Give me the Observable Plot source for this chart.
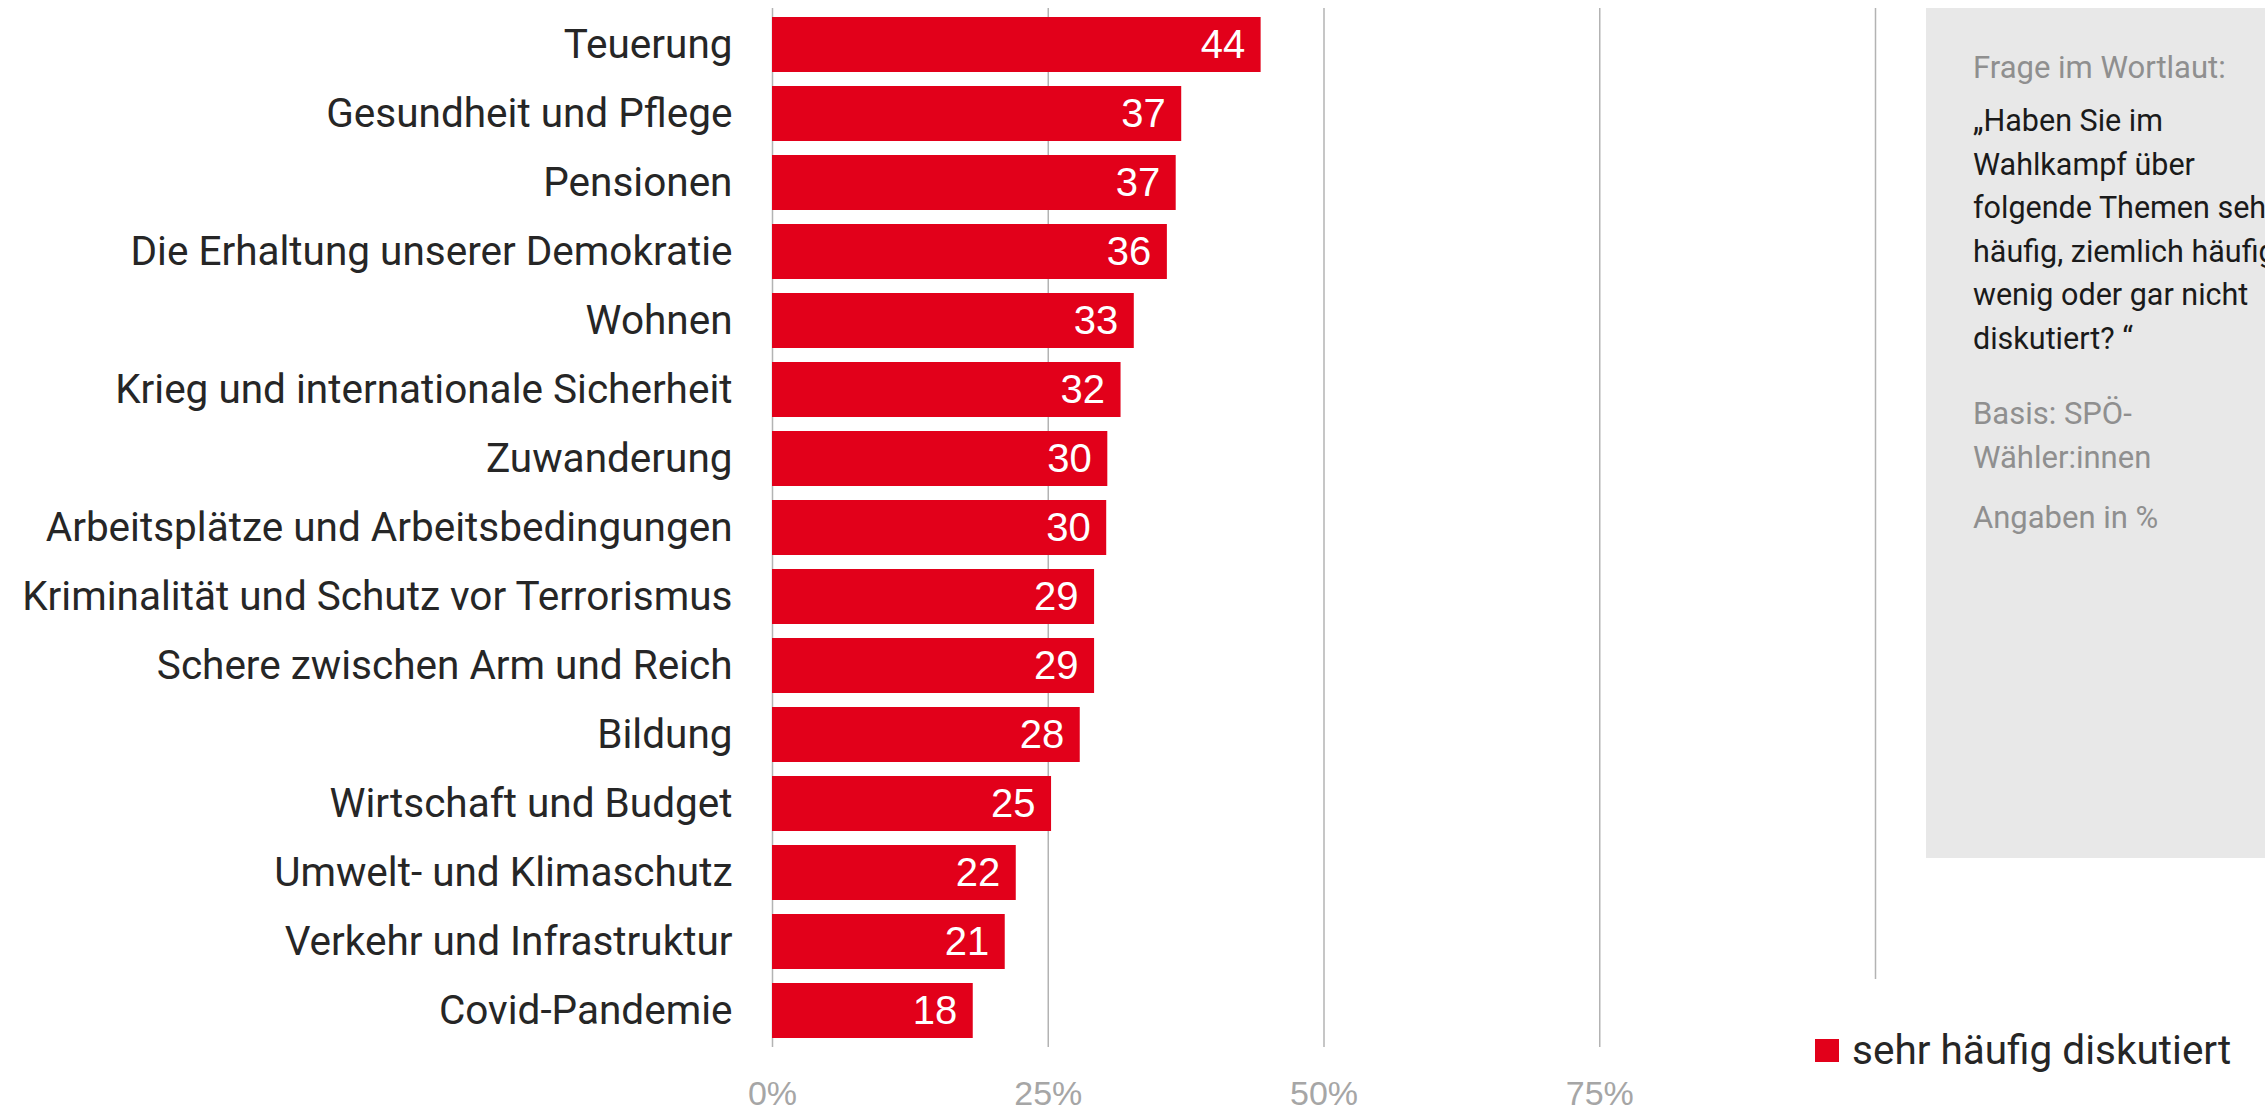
<!DOCTYPE html>
<html>
<head>
<meta charset="utf-8">
<script src="https://cdn.jsdelivr.net/npm/d3@7"></script>
<script src="https://cdn.jsdelivr.net/npm/@observablehq/plot@0.6"></script>
<style>
  html, body { margin: 0; padding: 0; background: #fff; }
  body { width: 2265px; height: 1109px; overflow: hidden; position: relative; font-family: Roboto, sans-serif; }
  #chart { position: absolute; left: 0; top: 0; }
  #box { position: absolute; left: 1926px; top: 8px; width: 420px; height: 850px; background: #e8e8e8; }
  .bt { position: absolute; left: 1973px; font-size: 31px; line-height: 43.5px; white-space: nowrap; font-family: Roboto, sans-serif; }
  .grey { color: #8f8f8f; }
  .dark { color: #1a1a1a; font-size: 30.5px; }
  #legend { position: absolute; left: 1815px; top: 1030px; display: flex; align-items: flex-start; font-size: 40.5px; line-height: 40px; color: #262626; white-space: nowrap; }
  #legend .sw { width: 24px; height: 23px; background: #E2001A; margin-top: 9px; margin-right: 13px; }
</style>
</head>
<body>
<div id="chart"></div>
<div id="box"></div>
<div class="bt grey" style="top:46px">Frage im Wortlaut:</div>
<div class="bt dark" style="top:99px">„Haben Sie im<br>Wahlkampf über<br>folgende Themen sehr<br>häufig, ziemlich häufig,<br>wenig oder gar nicht<br>diskutiert? “</div>
<div class="bt grey" style="top:392px">Basis: SPÖ-<br>Wähler:innen</div>
<div class="bt grey" style="top:496px">Angaben in %</div>
<div id="legend"><div class="sw"></div><div id="legendText"></div></div>
<script>
const categories = [
  "Teuerung",
  "Gesundheit und Pflege",
  "Pensionen",
  "Die Erhaltung unserer Demokratie",
  "Wohnen",
  "Krieg und internationale Sicherheit",
  "Zuwanderung",
  "Arbeitsplätze und Arbeitsbedingungen",
  "Kriminalität und Schutz vor Terrorismus",
  "Schere zwischen Arm und Reich",
  "Bildung",
  "Wirtschaft und Budget",
  "Umwelt- und Klimaschutz",
  "Verkehr und Infrastruktur",
  "Covid-Pandemie"
];
const values = [44.3, 37.1, 36.6, 35.8, 32.8, 31.6, 30.4, 30.3, 29.2, 29.2, 27.9, 25.3, 22.1, 21.1, 18.2];
const valueLabels = ["44", "37", "37", "36", "33", "32", "30", "30", "29", "29", "28", "25", "22", "21", "18"];
const gridTicks = [0, 25, 50, 75];
const outerTick = [100];
const seriesName = "sehr häufig diskutiert";

const data = categories.map((c, i) => ({category: c, value: values[i], label: valueLabels[i]}));

const chart = Plot.plot({
  width: 2265,
  height: 1109,
  marginLeft: 772,
  marginRight: 390,
  marginTop: 8,
  marginBottom: 62,
  style: {fontFamily: "Roboto, sans-serif", background: "transparent", overflow: "visible"},
  x: {domain: [0, 100]},
  y: {domain: categories, paddingInner: 0.2, paddingOuter: 0.1},
  marks: [
    Plot.ruleX(gridTicks, {stroke: "#b3b3b3", strokeWidth: 1.5}),
    Plot.ruleX(outerTick, {stroke: "#b3b3b3", strokeWidth: 1.5, insetBottom: 68}),
    Plot.barX(data, {x: "value", y: "category", fill: "#E2001A"}),
    Plot.text(data, {x: "value", y: "category", text: "label", textAnchor: "end", dx: -16, fill: "white", fontSize: 40, fontFamily: "Liberation Sans, Arial, sans-serif"}),
    Plot.axisY({tickSize: 0, tickPadding: 40, fontSize: 40.5, fontFamily: "Roboto, sans-serif", color: "#262626", label: null}),
    Plot.axisX({ticks: gridTicks, tickFormat: d => d + "%", tickSize: 0, tickPadding: 33, fontSize: 34, fontFamily: "Liberation Sans, Arial, sans-serif", color: "#a6a6a6", label: null})
  ]
});
document.getElementById("chart").appendChild(chart);
document.getElementById("legendText").textContent = seriesName;
</script>
</body>
</html>
